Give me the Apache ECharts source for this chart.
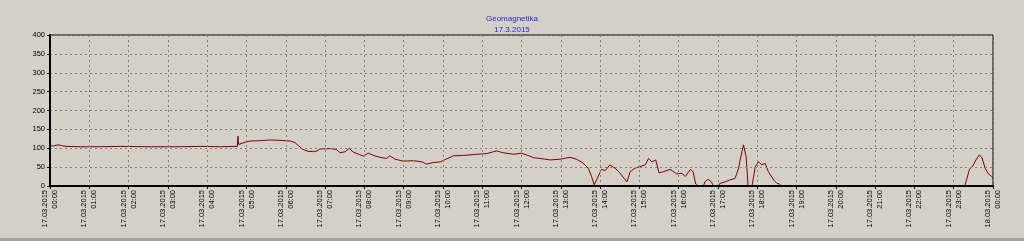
<!DOCTYPE html>
<html>
<head>
<meta charset="utf-8">
<script src="https://cdn.jsdelivr.net/npm/echarts@6/dist/echarts.min.js"></script>
<style>
html,body{margin:0;padding:0;background:#d4d0c8;}
#c{width:1024px;height:241px;}
</style>
</head>
<body>
<div id="c"></div>
<script>
var titleText = 'Geomagnetika';
var subtitleText = '17.3.2015';
var times = ['00:00','00:05','00:12','00:18','00:24','00:46','01:16','01:47','02:33','03:19','03:49','04:20','04:46','04:47','04:48','04:50','04:58','05:05','05:21','05:36','05:51','06:07','06:14','06:22','06:26','06:34','06:42','06:48','06:52','07:08','07:17','07:23','07:31','07:37','07:43','07:53','07:58','08:06','08:14','08:24','08:34','08:39','08:47','08:59','09:15','09:28','09:35','09:45','09:56','10:06','10:16','10:31','10:52','11:07','11:22','11:32','11:48','12:00','12:03','12:13','12:18','12:28','12:44','12:59','13:14','13:24','13:32','13:37','13:42','13:47','13:51','13:54','13:57','14:02','14:08','14:15','14:23','14:30','14:41','14:46','14:53','15:04','15:09','15:14','15:19','15:25','15:30','15:37','15:47','15:57','16:05','16:10','16:18','16:22','16:26','16:30','16:38','16:40','16:45','16:50','16:53','17:01','17:03','17:11','17:18','17:26','17:29','17:31','17:35','17:39','17:43','17:46','17:52','17:57','18:02','18:07','18:12','18:17','18:25','18:30','18:34','18:37','20:00','23:17','23:19','23:24','23:29','23:34','23:39','23:43','23:48','23:53','23:58','24:00'];
var values = [107,106,109,107,105,104,104,105,104,104,105,104,105,132,110,111,116,119,120,122,121,119,115,103,97,92,91,93,98,99,97,88,91,100,90,83,79,87,81,76,73,80,71,66,67,64,58,62,64,72,80,81,84,86,93,88,84,87,90,79,75,73,69,71,76,71,63,56,47,25,3,7,25,44,41,56,47,35,11,38,47,53,56,73,64,69,35,38,44,32,34,25,44,38,5,0,0,11,18,11,0,0,7,11,16,20,16,44,78,109,78,0,0,51,64,56,60,38,16,7,5,0,null,0,3,44,53,69,82,76,47,32,25,22];
var hourTicks = ['00:00','01:00','02:00','03:00','04:00','05:00','06:00','07:00','08:00','09:00','10:00','11:00','12:00','13:00','14:00','15:00','16:00','17:00','18:00','19:00','20:00','21:00','22:00','23:00','00:00'];
var tickDates = ['17.03.2015','18.03.2015'];
var yMin = 0, yMax = 400, yStep = 50;

function toMin(s){var p=s.split(':');return (+p[0])*60+(+p[1]);}
var seriesData = times.map(function(t,i){return [toMin(t), values[i] === null ? '-' : values[i]];});

var chart = echarts.init(document.getElementById('c'), null, {renderer:'canvas'});
var font = 'Liberation Sans';
chart.setOption({
  backgroundColor:'#d4d0c8',
  animation:false,
  title:{
    text:titleText+'\n'+subtitleText,
    left:'center', top:8,
    textStyle:{color:'#2a2ac8', fontSize:8, fontWeight:'normal', fontFamily:font, lineHeight:11}
  },
  grid:{left:50, right:31, top:35, bottom:55, show:true, borderColor:'#000', borderWidth:1},
  xAxis:{
    type:'value', min:0, max:1440, interval:60, z:5,
    axisLine:{show:true, onZero:false, lineStyle:{color:'#000', width:2}},
    axisTick:{show:true, length:3, lineStyle:{color:'#000'}},
    axisLabel:{
      rotate:90, margin:4, color:'#000', fontSize:7.5, fontFamily:font, lineHeight:10,
      formatter:function(v){var h=Math.round(v/60);return (h>=24?tickDates[1]:tickDates[0])+'\n'+hourTicks[h];}
    },
    splitLine:{show:true, lineStyle:{color:'#808080', type:[2,3], width:1}}
  },
  yAxis:{
    type:'value', min:yMin, max:yMax, interval:yStep, z:5,
    axisLine:{show:true, lineStyle:{color:'#000', width:2}},
    axisTick:{show:true, length:3, lineStyle:{color:'#000'}},
    axisLabel:{margin:5, color:'#000', fontSize:7.5, fontFamily:font},
    splitLine:{show:true, lineStyle:{color:'#808080', type:[2,3], width:1}}
  },
  series:[
    {type:'line', data:seriesData, showSymbol:false, connectNulls:false, z:2,
     lineStyle:{color:'#800000', width:1}}
  ],
  graphic:[{type:'rect', shape:{x:0,y:238,width:1024,height:3}, style:{fill:'#a8a49c'}}]
});
</script>
</body>
</html>
